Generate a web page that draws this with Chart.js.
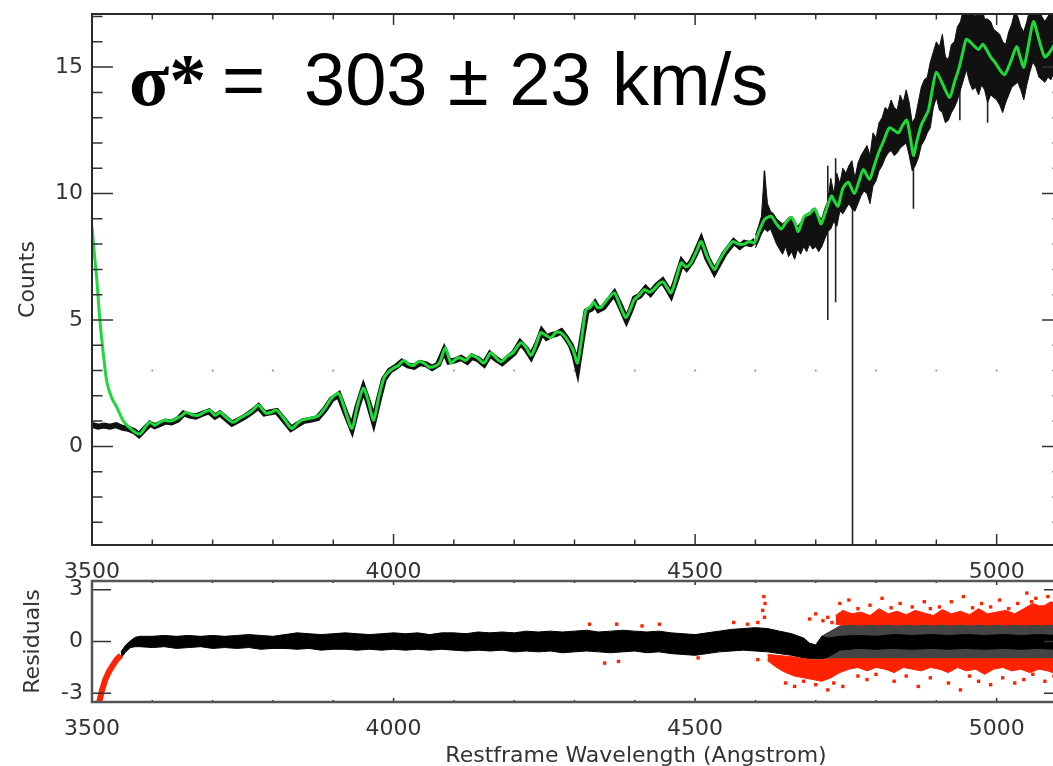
<!DOCTYPE html>
<html>
<head>
<meta charset="utf-8">
<script src="https://cdn.jsdelivr.net/npm/chart.js@4/dist/chart.umd.min.js"></script>
<style>
  html, body { margin: 0; padding: 0; background: #fff; overflow: hidden; }
  #wrap { position: relative; width: 1053px; height: 766px; overflow: hidden; background: #fff; }
  canvas { position: absolute; left: 0; }
  #specChart { top: 0; }
  #residChart { top: 560px; }
</style>
</head>
<body>
<div id="wrap">
  <canvas id="specChart" width="1070" height="600"></canvas>
  <canvas id="residChart" width="1070" height="206"></canvas>
</div>
<script>
// ---- best-fit template (green) ----
const modelWave = [
  3500,3504,3508,3513,3520,3525,3533,3541,3552,3563,
  3572,3580,3588,3596,3604,3612,3621,3630,3640,3648,
  3656,3666,3676,3686,3695,3704,3712,3722,3734,3744,
  3754,3765,3776,3783,3789,3797,3806,3818,3831,3840,
  3847,3860,3875,3886,3897,3909,3920,3931,3940,3950,
  3958,3967,3975,3984,3992,4000,4008,4017,4025,4033,
  4041,4050,4058,4066,4076,4086,4095,4103,4111,4120,
  4128,4139,4150,4161,4170,4178,4188,4198,4211,4220,
  4228,4236,4244,4252,4261,4269,4277,4284,4291,4298,
  4305,4312,4319,4326,4332,4338,4344,4354,4366,4375,
  4385,4392,4399,4408,4416,4425,4435,4441,4447,4453,
  4460,4468,4477,4485,4493,4502,4510,4520,4532,4539,
  4546,4555,4563,4572,4581,4590,4598,4606,4615,4626,
  4635,4643,4652,4660,4666,4671,4681,4690,4698,4704,
  4709,4718,4726,4731,4737,4745,4754,4764,4772,4779,
  4789,4797,4804,4813,4822,4830,4837,4844,4851,4857,
  4862,4868,4875,4881,4887,4894,4900,4911,4922,4930,
  4938,4944,4950,4960,4970,4977,4983,4990,4997,5005,
  5013,5023,5033,5039,5045,5053,5061,5070,5080,5091,
  5100
];
const modelFlux = [
  8.7,7.6,6.6,5.0,3.4,2.5,1.9,1.55,1.0,0.72,
  0.55,0.5,0.75,0.96,0.83,0.95,1.03,1.0,1.1,1.2,
  1.35,1.25,1.23,1.35,1.43,1.23,1.35,1.15,0.95,1.1,
  1.23,1.4,1.63,1.45,1.31,1.35,1.43,1.1,0.71,0.9,
  1.03,1.1,1.2,1.5,1.9,2.1,1.4,0.71,1.6,2.3,
  1.8,1.03,1.9,2.7,2.95,3.1,3.2,3.4,3.25,3.2,
  3.35,3.3,3.15,3.15,3.3,3.9,3.3,3.45,3.5,3.4,
  3.6,3.5,3.3,3.7,3.5,3.35,3.55,3.7,4.1,3.9,
  3.6,4.0,4.5,4.4,4.3,4.5,4.5,4.35,4.1,3.8,
  3.3,4.3,5.4,5.5,5.7,5.5,5.5,5.8,6.07,5.6,
  5.1,5.4,5.8,6.0,6.2,6.1,6.3,6.45,6.5,6.3,
  6.07,6.6,7.26,7.1,7.26,7.7,8.1,7.5,7.0,7.3,
  7.6,7.9,8.1,8.0,8.0,8.1,8.05,8.5,8.97,9.1,
  8.8,8.6,8.9,9.05,8.8,8.5,9.1,9.2,9.4,9.1,
  8.8,9.4,9.9,9.7,9.5,10.2,10.45,10.0,10.5,10.95,
  10.56,11.1,11.6,12.1,12.6,12.5,12.4,12.7,12.9,12.2,
  11.5,12.1,12.7,13.0,13.3,14.2,14.8,14.3,13.8,14.4,
  15.0,15.6,16.1,15.9,15.7,15.9,15.7,15.4,15.2,14.9,
  14.7,15.2,15.8,15.4,15.0,15.9,16.8,16.1,15.4,15.7,
  16.1
];

// ---- observed spectrum, blue end (single trace) ----
const specWave = [
  3500,3510,3520,3530,3540,3550,3560,3570,3578,3588,
  3596,3604,3614,3622,3632,3642,3652,3662,3672,3682,
  3694,3704,3712,3722,3732,3744,3754,3766,3776,3786,
  3796,3806,3818,3830,3840,3850,3862,3874,3886,3897,
  3909,3920,3931,3940,3950,3958,3967,3976,3984,3994,
  4004,4014,4024,4034,4044,4054,4064,4074,4084,4092,
  4102,4112,4122,4130,4140,4150,4160,4170,4180,4190,
  4200,4210,4220,4228,4238,4246,4254,4262,4270,4278,
  4286,4294,4300,4305,4312,4320,4328,4334,4340,4348,
  4356,4366,4376,4386,4394,4400,4408,4418,4426,4436,
  4446,4454,4460,4468,4478,4486,4494,4502,4510,4520,
  4532,4540,4548,4556,4564,4574,4582,4592,4600
];
const specFlux = [
  0.85,0.78,0.82,0.78,0.84,0.74,0.7,0.6,0.45,0.7,
  0.9,0.8,0.9,0.98,0.95,1.05,1.3,1.22,1.18,1.28,
  1.38,1.18,1.3,1.1,0.9,1.05,1.18,1.38,1.58,1.3,
  1.35,1.4,1.05,0.7,0.85,1.0,1.05,1.12,1.45,1.85,
  2.05,1.35,0.7,1.55,2.3,1.75,1.0,1.9,2.65,3.0,
  3.15,3.35,3.2,3.15,3.3,3.25,3.1,3.25,3.8,3.35,
  3.4,3.5,3.35,3.55,3.45,3.25,3.65,3.45,3.3,3.5,
  3.7,4.1,3.85,3.55,4.05,4.55,4.3,4.4,4.45,4.55,
  4.3,4.0,3.6,3.1,4.2,5.35,5.45,5.65,5.4,5.5,
  5.75,6.05,5.55,5.0,5.45,5.85,5.95,6.25,6.05,6.35,
  6.55,6.25,6.0,6.55,7.3,7.05,7.3,7.7,8.15,7.45,
  6.9,7.25,7.6,7.85,8.1,7.9,8.05,8.0,8.15
];

// ---- observed spectrum, red end (noise envelope) ----
const bandWave = [
  4600,4605,4610,4615,4620,4625,4630,4635,4640,4645,
  4650,4655,4660,4665,4670,4675,4680,4685,4690,4695,
  4700,4705,4710,4715,4720,4725,4730,4735,4740,4745,
  4750,4755,4760,4765,4770,4775,4780,4785,4790,4795,
  4800,4805,4810,4815,4820,4825,4830,4835,4840,4845,
  4850,4855,4860,4865,4870,4875,4880,4885,4890,4895,
  4900,4905,4910,4915,4920,4925,4930,4935,4940,4945,
  4950,4955,4960,4965,4970,4975,4980,4985,4990,4995,
  5000,5005,5010,5015,5020,5025,5030,5035,5040,5045,
  5050,5055,5060,5065,5070,5075,5080,5085,5090,5095,
  5100
];
const bandLow = [
  7.85,8.1,8.4,8.6,8.5,8.6,8.3,8.0,7.8,7.6,
  7.9,7.5,7.7,7.4,7.8,7.6,7.9,7.7,8.0,7.8,
  7.9,7.7,7.9,8.2,8.5,8.6,8.9,8.7,9.3,9.2,
  9.4,9.6,9.4,9.3,9.6,9.9,10.1,10.0,9.6,10.3,
  10.5,10.9,11.1,11.4,11.6,11.7,11.5,11.6,11.8,11.9,
  12.0,11.5,10.9,11.1,11.4,11.9,12.1,12.4,12.6,13.4,
  13.8,13.3,13.2,12.8,12.9,13.2,13.4,13.7,14.1,14.5,
  14.9,14.4,14.1,14.2,13.9,14.3,14.1,13.6,13.9,13.8,
  13.7,13.5,13.2,13.6,13.9,14.2,14.3,14.4,14.1,13.7,
  14.3,14.8,15.2,15.0,14.6,14.5,14.4,14.6,14.5,14.8,
  15.0
];
const bandHigh = [
  8.35,8.7,9.1,10.9,9.6,9.3,9.2,9.0,8.9,8.8,
  8.9,9.05,9.1,8.9,8.7,8.85,9.1,9.2,9.25,9.4,
  9.4,9.1,9.0,9.4,9.7,10.6,10.0,10.8,10.4,11.0,
  10.8,11.1,11.3,10.6,11.2,11.5,11.7,11.9,11.5,12.4,
  12.2,12.8,13.0,13.4,13.3,13.7,13.4,13.3,13.9,13.6,
  14.1,13.6,12.8,13.0,13.6,14.2,14.5,14.6,15.2,15.6,
  16.0,15.8,16.3,15.4,15.3,15.9,16.0,16.6,16.8,17.3,
  17.5,17.4,17.2,17.0,17.3,17.4,16.9,16.9,16.8,16.5,
  16.4,16.3,16.0,15.9,16.4,16.7,17.2,17.0,16.6,16.4,
  16.8,17.3,17.6,17.5,17.3,17.0,16.8,17.0,17.2,17.3,
  17.4
];

// narrow lines / bad pixels
const spikeWave = [4615, 4720, 4733, 4761, 4862, 4939, 4985];
const spikeLow  = [8.8, 5.0, 5.7, -3.9, 9.4, 12.9, 12.8];
const spikeHigh = [10.9, 11.1, 11.4, 10.6, 12.0, 15.0, 15.0];

// faint dotted row
const dotWave = [3600,3700,3800,3900,4000,4100,4200,4300,4400,4500,4600,4700,4800,4900,5000];
const dotLevel = [3,3,3,3,3,3,3,3,3,3,3,3,3,3,3];

// ---- residuals ----
const resWave = [
  3548,3556,3564,3572,3580,3600,3620,3640,3660,3680,
  3700,3720,3740,3760,3780,3800,3820,3840,3860,3880,
  3900,3920,3940,3960,3980,4000,4020,4040,4060,4080,
  4100,4120,4140,4160,4180,4200,4220,4240,4260,4280,
  4300,4320,4340,4360,4380,4400,4420,4440,4460,4480,
  4500,4520,4540,4560,4580,4600,4620,4640,4660,4680,
  4690,4700,4710,4720,4740,4770,4800,4830,4860,4890,
  4920,4950,4980,5010,5040,5070,5100
];
const resLow = [
  -0.95,-0.6,-0.35,-0.3,-0.3,-0.35,-0.3,-0.4,-0.35,-0.3,
  -0.4,-0.35,-0.4,-0.35,-0.45,-0.4,-0.4,-0.45,-0.4,-0.5,
  -0.45,-0.45,-0.5,-0.45,-0.5,-0.45,-0.5,-0.45,-0.5,-0.45,
  -0.5,-0.55,-0.5,-0.55,-0.5,-0.6,-0.55,-0.6,-0.55,-0.65,
  -0.6,-0.55,-0.6,-0.65,-0.6,-0.55,-0.65,-0.6,-0.7,-0.75,
  -0.8,-0.7,-0.6,-0.55,-0.5,-0.55,-0.6,-0.7,-0.8,-0.95,
  -1.0,-1.0,-1.0,-0.9,-0.5,-0.4,-0.45,-0.4,-0.45,-0.4,
  -0.45,-0.4,-0.45,-0.4,-0.45,-0.4,-0.45
];
const resHigh = [
  -0.6,-0.2,0.05,0.25,0.3,0.3,0.35,0.3,0.35,0.3,
  0.35,0.3,0.35,0.4,0.35,0.3,0.4,0.5,0.45,0.4,
  0.45,0.5,0.45,0.4,0.45,0.5,0.45,0.5,0.4,0.5,
  0.5,0.45,0.55,0.5,0.55,0.5,0.6,0.55,0.6,0.55,
  0.6,0.65,0.55,0.6,0.65,0.6,0.55,0.6,0.5,0.45,
  0.4,0.5,0.6,0.7,0.75,0.8,0.75,0.6,0.45,0.2,
  -0.1,-0.2,0.3,0.2,0.3,0.35,0.3,0.4,0.35,0.4,
  0.35,0.4,0.35,0.4,0.35,0.4,0.35
];

// scattered region at the red end, |r| < 1
const looseWave = [4710,4740,4770,4800,4830,4860,4890,4920,4950,4980,5010,5040,5070,5100];
const looseLow  = [-1.0,-1.0,-1.05,-1.0,-1.0,-1.05,-1.0,-1.0,-1.05,-1.0,-1.0,-1.05,-1.0,-1.0];
const looseHigh = [0.3,0.9,1.0,0.95,1.0,1.0,0.95,1.0,1.0,0.95,1.0,1.0,0.95,1.0];

// rejected pixels (red)
const redUpWave = [4733,4745,4760,4775,4790,4805,4820,4835,4850,4865,4880,4895,4910,4925,4940,4955,4970,4985,5000,5015,5030,5045,5060,5075,5090,5100];
const redUpLow  = [1.0,0.95,1.0,0.95,1.0,0.95,1.0,0.95,1.0,0.95,1.0,0.95,1.0,0.95,1.0,0.95,1.0,0.95,1.0,0.95,1.0,0.95,1.0,0.95,1.0,1.0];
const redUpHigh = [1.5,1.8,1.6,1.7,1.5,1.9,1.6,1.75,1.55,1.8,1.65,1.5,1.85,1.6,1.75,1.55,1.9,1.6,1.7,1.8,1.6,1.9,2.2,2.0,2.3,2.1];

const redDnWave = [4620,4635,4650,4665,4680,4695,4710,4725,4740,4755,4770,4785,4800,4815,4830,4845,4860,4875,4890,4905,4920,4935,4950,4965,4980,4995,5010,5025,5040,5055,5070,5085,5100];
const redDnHigh = [-0.75,-0.8,-0.85,-0.9,-1.0,-1.05,-1.05,-1.0,-1.0,-1.0,-1.0,-1.0,-1.0,-1.0,-1.0,-1.0,-1.0,-1.0,-1.0,-1.0,-1.0,-1.0,-1.0,-1.0,-1.0,-1.0,-1.0,-1.0,-1.0,-1.0,-1.0,-1.0,-1.0];
const redDnLow  = [-1.1,-1.5,-1.8,-2.0,-2.1,-2.2,-2.3,-2.1,-1.8,-1.6,-1.5,-1.7,-1.5,-1.6,-1.8,-1.5,-1.6,-1.7,-1.5,-1.6,-1.8,-1.5,-1.7,-1.6,-1.9,-1.6,-1.5,-1.7,-1.6,-1.8,-1.6,-1.7,-1.9];

const redPtWave = [
  4325,4350,4370,4373,4412,4441,4505,4564,4587,4604,4604,4612,4614,4616,4615,
  4690,4700,4712,4720,4727,
  4740,4755,4770,4790,4810,4825,4840,4860,4880,4890,4905,4925,4945,4960,4975,
  4990,5005,5020,5035,5050,5058,5065,5075,5085,5095,
  4650,4665,4680,4700,4720,4730,4745,4770,4785,4800,4830,4850,4870,4890,4920,
  4940,4955,4970,4990,5010,5030,5045,5060,5080,5095
];
const redPtRes = [
  1.0,-1.25,1.0,-1.15,0.9,1.0,-0.95,1.1,1.0,1.1,-1.05,1.8,2.6,2.2,1.4,
  1.3,1.6,1.2,1.4,1.1,
  2.2,2.4,1.9,2.1,2.5,1.95,2.2,2.0,2.3,1.9,2.0,2.3,2.6,1.95,2.2,
  2.0,2.4,1.9,2.2,2.8,2.3,2.5,2.0,2.6,2.2,
  -2.4,-2.6,-2.3,-2.5,-2.8,-2.4,-2.6,-2.0,-2.2,-1.9,-2.3,-2.0,-2.6,-2.1,-2.4,
  -2.8,-2.0,-2.3,-2.5,-2.1,-2.4,-2.2,-1.9,-2.3,-2.0
];

// steep residual at the blue edge
const edgeWave = [3512, 3516, 3522, 3528, 3535, 3542, 3548];
const edgeRes  = [-3.5, -2.9, -2.2, -1.75, -1.35, -1.0, -0.8];

// ---- axes ----
const waveTicks  = [3500, 4000, 4500, 5000];
const waveMinor  = [3600,3700,3800,3900,4100,4200,4300,4400,4600,4700,4800,4900,5100];
const countTicks = [0, 5, 10, 15];
const countMinor = [-3,-2,-1,1,2,3,4,6,7,8,9,11,12,13,14,16,17];
const residTicks = [-3, 0, 3];

const GREEN = '#1fd83a';
const RED = '#ff2200';
const INK = '#333';

Chart.defaults.font.family = '"DejaVu Sans", sans-serif';
Chart.defaults.color = INK;

const pts = (xs, ys) => xs.map((x, i) => ({ x: x, y: ys[i] }));

// IDL-style box with inward ticks on all four sides
function boxTicks(cfg) {
  return {
    id: 'boxTicks',
    afterDatasetsDraw(chart) {
      const { ctx, chartArea: a } = chart;
      const xs = chart.scales.x, ys = chart.scales.y;
      ctx.save();
      ctx.strokeStyle = INK;
      ctx.lineWidth = 1.5;
      ctx.beginPath();
      const xMark = (v, len) => {
        const px = xs.getPixelForValue(v);
        ctx.moveTo(px, a.bottom); ctx.lineTo(px, a.bottom - len);
        ctx.moveTo(px, a.top); ctx.lineTo(px, a.top + len);
      };
      const yMark = (v, len) => {
        const py = ys.getPixelForValue(v);
        ctx.moveTo(a.left, py); ctx.lineTo(a.left + len, py);
        ctx.moveTo(a.right, py); ctx.lineTo(a.right - len, py);
      };
      cfg.xMinor.forEach(v => xMark(v, cfg.xMinorLen));
      cfg.xMajor.forEach(v => xMark(v, cfg.xMajorLen));
      cfg.yMinor.forEach(v => yMark(v, cfg.yMinorLen));
      cfg.yMajor.forEach(v => yMark(v, cfg.yMajorLen));
      ctx.stroke();
      ctx.lineWidth = cfg.frameWidth;
      ctx.strokeStyle = cfg.frameColor;
      ctx.strokeRect(a.left, a.top, a.right - a.left, a.bottom - a.top);
      ctx.restore();
    }
  };
}

const sigmaLabel = {
  id: 'sigmaLabel',
  afterDraw(chart) {
    const ctx = chart.ctx;
    ctx.save();
    ctx.fillStyle = '#000';
    ctx.textBaseline = 'alphabetic';
    ctx.textAlign = 'left';
    ctx.font = 'bold 74px "Liberation Serif"';
    ctx.fillText('σ*', 129, 105);
    ctx.font = '74px "Liberation Sans"';
    ctx.fillText('=', 222, 105);
    ctx.fillText('303 ± 23 km/s', 304, 105);
    ctx.restore();
  }
};

const waveTitle = {
  id: 'waveTitle',
  afterDraw(chart) {
    const ctx = chart.ctx;
    ctx.save();
    ctx.fillStyle = INK;
    ctx.font = '22px "DejaVu Sans"';
    ctx.textAlign = 'center';
    ctx.textBaseline = 'alphabetic';
    ctx.fillText('Restframe Wavelength (Angstrom)', 636, 202);
    ctx.restore();
  }
};

const tickFont = { size: 22, family: '"DejaVu Sans"' };

function xScale(height) {
  return {
    type: 'linear', min: 3500, max: 5110, offset: false,
    grid: { display: false, drawTicks: false }, border: { display: false },
    afterBuildTicks: s => { s.ticks = waveTicks.map(v => ({ value: v })); },
    afterFit: s => { s.height = height; s.paddingLeft = 0; s.paddingRight = 0; },
    ticks: { autoSkip: false, maxRotation: 0, padding: 14, font: tickFont, color: INK, callback: v => String(v) }
  };
}

function yFit(s) {
  s.width = 92;
  s.paddingTop = 0;
  s.paddingBottom = 0;
}

// ---- spectrum panel ----
new Chart(document.getElementById('specChart'), {
  type: 'line',
  data: {
    datasets: [
      { label: 'model', data: pts(modelWave, modelFlux), borderColor: GREEN, borderWidth: 3, tension: 0.25, order: 0 },
      { label: 'spectrum', data: pts(specWave, specFlux), borderColor: '#111', borderWidth: 6, order: 2 },
      { label: 'noise high', data: pts(bandWave, bandHigh), borderColor: '#111', borderWidth: 1,
        backgroundColor: '#111', fill: '+1', order: 3 },
      { label: 'noise low', data: pts(bandWave, bandLow), borderColor: '#111', borderWidth: 1, order: 3 },
      { label: 'lines', data: spikeWave.flatMap((w, i) => [{ x: w, y: spikeLow[i] }, { x: w, y: spikeHigh[i] }, { x: w + 0.01, y: null }]),
        borderColor: '#222', borderWidth: 1.6, spanGaps: false, order: 4 },
      { label: 'dots', data: pts(dotWave, dotLevel), showLine: false, pointRadius: 1.1,
        backgroundColor: '#9a9a9a', borderWidth: 0, order: 5 }
    ]
  },
  options: {
    responsive: false, animation: false, events: [],
    layout: { padding: { top: 14, right: 7, left: 0, bottom: 0 } },
    elements: { point: { radius: 0 }, line: { tension: 0 } },
    plugins: { legend: { display: false }, tooltip: { enabled: false } },
    scales: {
      x: xScale(55),
      y: {
        type: 'linear', min: -3.9, max: 17.1,
        grid: { display: false, drawTicks: false }, border: { display: false },
        afterBuildTicks: s => { s.ticks = countTicks.map(v => ({ value: v })); },
        afterFit: yFit,
        ticks: { autoSkip: false, padding: 9, font: tickFont, color: INK, callback: v => String(v) },
        title: { display: true, text: 'Counts', color: INK, font: { size: 22, family: '"DejaVu Sans"' }, padding: { top: 15, bottom: 0 } }
      }
    }
  },
  plugins: [boxTicks({
    xMajor: waveTicks, xMinor: waveMinor, xMajorLen: 11, xMinorLen: 5.5,
    yMajor: countTicks, yMinor: countMinor, yMajorLen: 21, yMinorLen: 10.5,
    frameWidth: 2, frameColor: '#2a2a2a'
  }), sigmaLabel]
});

// ---- residual panel ----
new Chart(document.getElementById('residChart'), {
  type: 'line',
  data: {
    datasets: [
      { label: 'edge', data: pts(edgeWave, edgeRes), borderColor: RED, borderWidth: 6, order: 0 },
      { label: 'rejected', data: pts(redPtWave, redPtRes), showLine: false, pointStyle: 'rect',
        pointRadius: 2.4, backgroundColor: RED, borderWidth: 0, order: 1 },
      { label: 'rejected high top', data: pts(redUpWave, redUpHigh), borderColor: RED, borderWidth: 1,
        backgroundColor: RED, fill: '+1', order: 2 },
      { label: 'rejected high base', data: pts(redUpWave, redUpLow), borderColor: RED, borderWidth: 1, order: 2 },
      { label: 'rejected low top', data: pts(redDnWave, redDnHigh), borderColor: RED, borderWidth: 1,
        backgroundColor: RED, fill: '+1', order: 2 },
      { label: 'rejected low base', data: pts(redDnWave, redDnLow), borderColor: RED, borderWidth: 1, order: 2 },
      { label: 'core high', data: pts(resWave, resHigh), borderColor: '#000', borderWidth: 1,
        backgroundColor: '#000', fill: '+1', order: 3 },
      { label: 'core low', data: pts(resWave, resLow), borderColor: '#000', borderWidth: 1, order: 3 },
      { label: 'loose high', data: pts(looseWave, looseHigh), borderColor: '#333', borderWidth: 1,
        backgroundColor: '#444', fill: '+1', order: 4 },
      { label: 'loose low', data: pts(looseWave, looseLow), borderColor: '#333', borderWidth: 1, order: 4 }
    ]
  },
  options: {
    responsive: false, animation: false, events: [],
    layout: { padding: { top: 21, right: 7, left: 0, bottom: 0 } },
    elements: { point: { radius: 0 }, line: { tension: 0 } },
    plugins: { legend: { display: false }, tooltip: { enabled: false } },
    scales: {
      x: xScale(64),
      y: {
        type: 'linear', min: -3.5, max: 3.5,
        grid: { display: false, drawTicks: false }, border: { display: false },
        afterBuildTicks: s => { s.ticks = residTicks.map(v => ({ value: v })); },
        afterFit: yFit,
        ticks: { autoSkip: false, padding: 9, font: tickFont, color: INK, callback: v => String(v) },
        title: { display: true, text: 'Residuals', color: INK, font: { size: 22, family: '"DejaVu Sans"' }, padding: { top: 20, bottom: 0 } }
      }
    }
  },
  plugins: [boxTicks({
    xMajor: waveTicks, xMinor: waveMinor, xMajorLen: 4, xMinorLen: 2,
    yMajor: residTicks, yMinor: [], yMajorLen: 19, yMinorLen: 0,
    frameWidth: 2.5, frameColor: '#555'
  }), waveTitle]
});
</script>
</body>
</html>
